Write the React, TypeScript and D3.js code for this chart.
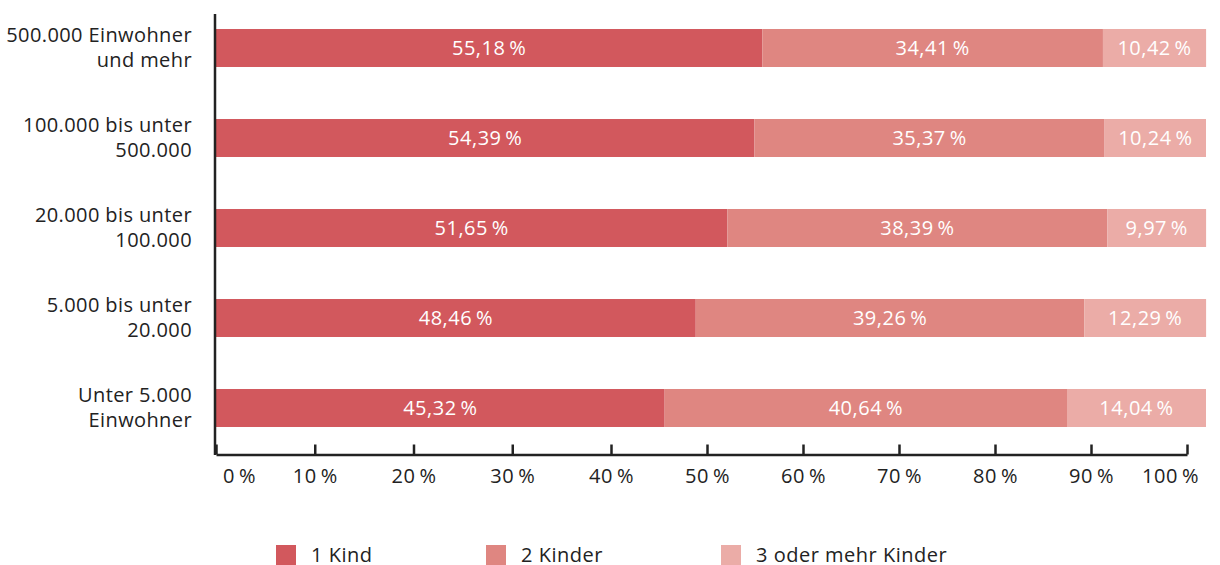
import React, { useEffect, useRef } from "react";
import { select, scaleLinear, scaleBand, axisBottom, stack } from "d3";

const categories = ["500.000 Einwohner|und mehr", "100.000 bis unter|500.000", "20.000 bis unter|100.000", "5.000 bis unter|20.000", "Unter 5.000|Einwohner"];
const seriesNames = ["1 Kind", "2 Kinder", "3 oder mehr Kinder"];
const kind1 = [55.18, 54.39, 51.65, 48.46, 45.32];
const kind2 = [34.41, 35.37, 38.39, 39.26, 40.64];
const kind3 = [10.42, 10.24, 9.97, 12.29, 14.04];
const tickValues = [0, 10, 20, 30, 40, 50, 60, 70, 80, 90, 100];
const colors = ["#d2585d", "#df8681", "#ebaca7"];

const App = () => {
  const ref = useRef<SVGSVGElement>(null);
  const width = 1220;
  const height = 565;
  const font = "'Open Sans', sans-serif";

  useEffect(() => {
    const svg = select(ref.current);
    svg.selectAll("*").remove();

    const rows = categories.map((c, i) => ({ cat: c, k1: kind1[i], k2: kind2[i], k3: kind3[i] }));
    const keys = ["k1", "k2", "k3"];
    const stacked = stack<any>().keys(keys)(rows);

    const x = scaleLinear().domain([0, 100]).range([216, 1206]);
    // the axis in the original is drawn a bit narrower than the bars
    const xAxisScale = scaleLinear().domain([0, 40, 100]).range([216, 611, 1187]);
    const y = scaleBand().domain(categories).range([3, 453]).paddingInner(0.578).paddingOuter(0.289);

    const fmt = (v: number) => v.toFixed(2).replace(".", ",") + "\u2009%";

    const g = svg.append("g");

    stacked.forEach((layer, li) => {
      const lg = g.append("g").attr("fill", colors[li]);
      lg.selectAll("rect")
        .data(layer)
        .enter()
        .append("rect")
        .attr("x", (d: any) => x(d[0]))
        .attr("y", (d: any) => y(d.data.cat)!)
        .attr("width", (d: any) => x(d[1]) - x(d[0]))
        .attr("height", y.bandwidth());

      g.append("g")
        .selectAll("text")
        .data(layer)
        .enter()
        .append("text")
        .attr("x", (d: any) => (x(d[0]) + x(d[1])) / 2)
        .attr("y", (d: any) => y(d.data.cat)! + y.bandwidth() / 2)
        .attr("dy", "0.36em")
        .attr("text-anchor", "middle")
        .attr("fill", "#fff")
        .attr("font-family", font)
        .attr("font-size", 20)
        .attr("letter-spacing", 0.5)
        .text((d: any) => fmt(d[1] - d[0]));
    });

    // category labels, two lines each
    const labels = g.append("g")
      .attr("font-family", font)
      .attr("font-size", 20)
      .attr("letter-spacing", 0.4)
      .attr("fill", "#222")
      .attr("text-anchor", "end");
    categories.forEach((c) => {
      const lines = c.split("|");
      const cy = y(c)! + y.bandwidth() / 2;
      lines.forEach((l, i) => {
        labels.append("text")
          .attr("x", 192)
          .attr("y", cy - 6.5 + i * 25)
          .text(l);
      });
    });

    // y axis line
    g.append("line")
      .attr("x1", 215).attr("x2", 215)
      .attr("y1", 14).attr("y2", 455)
      .attr("stroke", "#222").attr("stroke-width", 2.5);

    // x axis
    const ax = g.append("g")
      .attr("transform", "translate(0, 454.5)")
      .call(
        axisBottom(xAxisScale)
          .tickValues(tickValues)
          .tickSizeInner(-10)
          .tickSizeOuter(0)
          .tickPadding(14)
          .tickFormat((d: any) => `${d}\u2009%`)
      );
    ax.select(".domain").attr("stroke", "#222").attr("stroke-width", 2.5);
    ax.selectAll(".tick line").attr("stroke", "#222").attr("stroke-width", 2.5);
    ax.selectAll(".tick text")
      .attr("font-family", font)
      .attr("font-size", 20)
      .attr("letter-spacing", 0.6)
      .attr("fill", "#222");
    // first and last labels are pulled inward
    ax.selectAll(".tick text").filter((d: any) => d === 0).attr("x", 23);
    ax.selectAll(".tick text").filter((d: any) => d === 100).attr("x", -17);

    // legend
    const legendX = [276, 486, 721];
    const leg = g.append("g");
    seriesNames.forEach((s, i) => {
      leg.append("rect")
        .attr("x", legendX[i]).attr("y", 545)
        .attr("width", 20).attr("height", 20)
        .attr("fill", colors[i]);
      leg.append("text")
        .attr("x", legendX[i] + 35).attr("y", 562)
        .attr("font-family", font)
        .attr("font-size", 20)
        .attr("letter-spacing", 0.5)
        .attr("fill", "#222")
        .text(s);
    });
  }, []);

  return (
    <svg
      ref={ref}
      width={width}
      height={height}
      style={{ position: "absolute", left: 0, top: 0, background: "#fff" }}
    />
  );
};

export default App;
